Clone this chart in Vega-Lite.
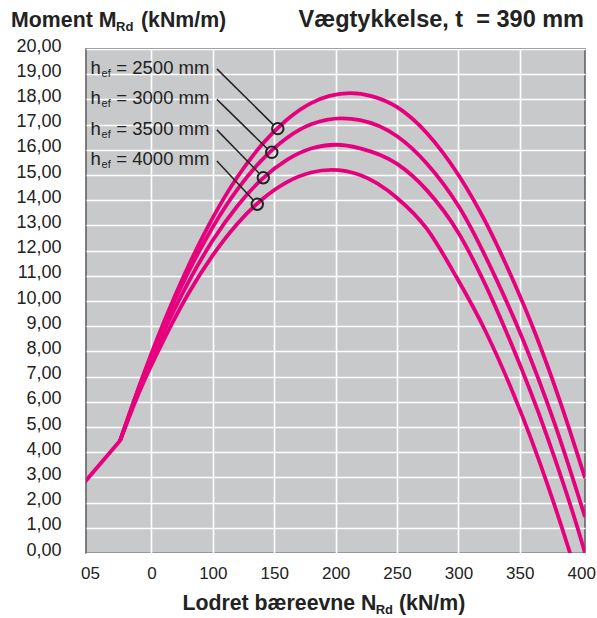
{
  "$schema": "https://vega.github.io/schema/vega-lite/v6.json",
  "autosize": {"type": "none"},
  "width": 499,
  "height": 504,
  "padding": {"left": 86, "top": 49, "right": 12, "bottom": 65},
  "background": "white",
  "config": {
    "font": "Liberation Sans",
    "view": {"fill": "#c8c9cb", "stroke": "#5a5a5a", "strokeWidth": 1.5},
    "axis": {"labelOverlap": false}
  },
  "datasets": {
    "base": [
      {"s": "all", "x": -5, "y": 2.78}, {"s": "all", "x": 24.4, "y": 4.45}
    ],
    "curves": [
      {"s": "2500", "x": 24.4, "y": 4.45}, {"s": "2500", "x": 40, "y": 6.62}, {"s": "2500", "x": 60, "y": 9.15}, {"s": "2500", "x": 80, "y": 11.38}, {"s": "2500", "x": 100, "y": 13.31}, {"s": "2500", "x": 120, "y": 14.92}, {"s": "2500", "x": 140, "y": 16.21}, {"s": "2500", "x": 160, "y": 17.18}, {"s": "2500", "x": 180, "y": 17.85}, {"s": "2500", "x": 195, "y": 18.14}, {"s": "2500", "x": 212, "y": 18.25}, {"s": "2500", "x": 230, "y": 18.12}, {"s": "2500", "x": 249.8, "y": 17.7}, {"s": "2500", "x": 274.2, "y": 16.67}, {"s": "2500", "x": 300.7, "y": 14.95}, {"s": "2500", "x": 323, "y": 13.05}, {"s": "2500", "x": 342, "y": 11.1}, {"s": "2500", "x": 362.7, "y": 8.7}, {"s": "2500", "x": 382.9, "y": 6.0}, {"s": "2500", "x": 403.1, "y": 2.98},
      {"s": "3000", "x": 24.4, "y": 4.45}, {"s": "3000", "x": 40, "y": 6.58}, {"s": "3000", "x": 60, "y": 9.03}, {"s": "3000", "x": 80, "y": 11.14}, {"s": "3000", "x": 100, "y": 12.94}, {"s": "3000", "x": 120, "y": 14.43}, {"s": "3000", "x": 140, "y": 15.6}, {"s": "3000", "x": 160, "y": 16.46}, {"s": "3000", "x": 180, "y": 17.01}, {"s": "3000", "x": 205, "y": 17.25}, {"s": "3000", "x": 219.9, "y": 17.18}, {"s": "3000", "x": 249.8, "y": 16.55}, {"s": "3000", "x": 274.2, "y": 15.46}, {"s": "3000", "x": 300.7, "y": 13.72}, {"s": "3000", "x": 331.2, "y": 10.83}, {"s": "3000", "x": 352.6, "y": 8.46}, {"s": "3000", "x": 377.9, "y": 5.2}, {"s": "3000", "x": 403.1, "y": 1.43},
      {"s": "3500", "x": 24.4, "y": 4.45}, {"s": "3500", "x": 40, "y": 6.5}, {"s": "3500", "x": 60, "y": 8.77}, {"s": "3500", "x": 80, "y": 10.74}, {"s": "3500", "x": 100, "y": 12.41}, {"s": "3500", "x": 120, "y": 13.77}, {"s": "3500", "x": 140, "y": 14.84}, {"s": "3500", "x": 160, "y": 15.59}, {"s": "3500", "x": 180, "y": 16.05}, {"s": "3500", "x": 200, "y": 16.2}, {"s": "3500", "x": 219.9, "y": 16.06}, {"s": "3500", "x": 249.8, "y": 15.45}, {"s": "3500", "x": 274.2, "y": 14.4}, {"s": "3500", "x": 300.7, "y": 12.65}, {"s": "3500", "x": 319, "y": 10.95}, {"s": "3500", "x": 342.6, "y": 8.36}, {"s": "3500", "x": 372.8, "y": 4.55}, {"s": "3500", "x": 403.1, "y": 0}, {"s": "3500", "x": 406, "y": -0.5},
      {"s": "4000", "x": 24.4, "y": 4.45}, {"s": "4000", "x": 40, "y": 6.38}, {"s": "4000", "x": 60, "y": 8.46}, {"s": "4000", "x": 80, "y": 10.29}, {"s": "4000", "x": 100, "y": 11.82}, {"s": "4000", "x": 120, "y": 13.07}, {"s": "4000", "x": 140, "y": 14.03}, {"s": "4000", "x": 160, "y": 14.71}, {"s": "4000", "x": 180, "y": 15.1}, {"s": "4000", "x": 197, "y": 15.2}, {"s": "4000", "x": 219.9, "y": 15.0}, {"s": "4000", "x": 249.8, "y": 14.1}, {"s": "4000", "x": 274.2, "y": 12.87}, {"s": "4000", "x": 298.6, "y": 10.93}, {"s": "4000", "x": 322.4, "y": 8.77}, {"s": "4000", "x": 352.6, "y": 5.37}, {"s": "4000", "x": 390.9, "y": 0}, {"s": "4000", "x": 395, "y": -0.64}
    ],
    "markers": [
      {"s": "2500", "x": 152.9, "y": 16.84},
      {"s": "3000", "x": 148, "y": 15.9},
      {"s": "3500", "x": 141.1, "y": 14.89},
      {"s": "4000", "x": 136.2, "y": 13.84}
    ],
    "leaders": [
      {"s": "2500", "x": 103.3, "y": 19.21, "x2": 149.0, "y2": 17.01},
      {"s": "3000", "x": 103.3, "y": 18.0, "x2": 144.2, "y2": 16.05},
      {"s": "3500", "x": 103.3, "y": 16.79, "x2": 137.5, "y2": 15.08},
      {"s": "4000", "x": 103.3, "y": 15.56, "x2": 132.7, "y2": 14.02}
    ],
    "labels": [
      {"role": "title", "t": "Moment M", "x": -64.3, "y": 20.86},
      {"role": "titleSub", "t": "Rd", "x": 21.2, "y": 20.73},
      {"role": "title", "t": "(kNm/m)", "x": 41.5, "y": 20.86},
      {"role": "titleRight", "t": "Vægtykkelse, t\u00a0 = 390 mm", "x": 402.3, "y": 20.88},
      {"role": "title", "t": "Lodret bæreevne N", "x": 75.2, "y": -2.26},
      {"role": "titleSub", "t": "Rd", "x": 232.6, "y": -2.42},
      {"role": "title", "t": "(kN/m)", "x": 251.6, "y": -2.26},
      {"role": "h", "t": "h", "x": 0.4, "y": 19.01},
      {"role": "ef", "t": "ef", "x": 9.4, "y": 18.88},
      {"role": "val", "t": "= 2500 mm", "x": 21.4, "y": 19.01},
      {"role": "h", "t": "h", "x": 0.4, "y": 17.82},
      {"role": "ef", "t": "ef", "x": 9.4, "y": 17.69},
      {"role": "val", "t": "= 3000 mm", "x": 21.4, "y": 17.82},
      {"role": "h", "t": "h", "x": 0.4, "y": 16.6},
      {"role": "ef", "t": "ef", "x": 9.4, "y": 16.47},
      {"role": "val", "t": "= 3500 mm", "x": 21.4, "y": 16.6},
      {"role": "h", "t": "h", "x": 0.4, "y": 15.4},
      {"role": "ef", "t": "ef", "x": 9.4, "y": 15.27},
      {"role": "val", "t": "= 4000 mm", "x": 21.4, "y": 15.4}
    ]
  },
  "encoding": {
    "x": {
      "field": "x", "type": "quantitative",
      "scale": {"domain": [-3.3, 403.1], "nice": false, "zero": false},
      "axis": {
        "title": null, "values": [0, 50, 100, 150, 200, 250, 300, 350, 400],
        "labelExpr": "datum.value == 0 ? '05' : datum.value == 50 ? '0' : datum.label",
        "ticks": false, "domain": false, "labelPadding": 12, "labelFontSize": 17,
        "labelColor": "#222", "labelFont": "Liberation Sans", "labelOverlap": false,
        "grid": true, "gridColor": "white", "gridWidth": 1.6,
        "gridOpacity": {"condition": {"test": "datum.value == 0 || datum.value == 400", "value": 0}, "value": 1}
      }
    },
    "y": {
      "field": "y", "type": "quantitative",
      "scale": {"domain": [0, 20], "nice": false, "zero": false},
      "axis": {
        "title": null, "values": [0, 1, 2, 3, 4, 5, 6, 7, 8, 9, 10, 11, 12, 13, 14, 15, 16, 17, 18, 19, 20],
        "labelExpr": "replace(format(datum.value, '.2f'), '.', ',')",
        "ticks": false, "domain": false, "labelPadding": 25, "labelFontSize": 18,
        "labelColor": "#222", "labelFont": "Liberation Sans", "labelOffset": -3,
        "labelOverlap": false, "labelBound": false, "labelFlush": false,
        "grid": true, "gridColor": "white", "gridWidth": 1.6
      }
    }
  },
  "layer": [
    {
      "data": {"name": "curves"},
      "mark": {"type": "line", "color": "#e6007e", "strokeWidth": 3.8, "interpolate": "monotone", "clip": true},
      "encoding": {"detail": {"field": "s", "type": "nominal"}}
    },
    {
      "data": {"name": "base"},
      "mark": {"type": "line", "color": "#e6007e", "strokeWidth": 3.8, "interpolate": "linear", "clip": true},
      "encoding": {}
    },
    {
      "data": {"name": "leaders"},
      "mark": {"type": "rule", "color": "#222", "strokeWidth": 1.5},
      "encoding": {"x2": {"field": "x2"}, "y2": {"field": "y2"}}
    },
    {
      "data": {"name": "markers"},
      "mark": {"type": "point", "shape": "circle", "filled": false, "stroke": "#222", "strokeWidth": 2, "size": 130, "opacity": 1},
      "encoding": {}
    },
    {
      "data": {"name": "labels"},
      "transform": [{"filter": "datum.role == 'title'"}],
      "mark": {"type": "text", "align": "left", "baseline": "alphabetic", "fontSize": 21.3, "fontWeight": "bold", "color": "#222"},
      "encoding": {"text": {"field": "t"}}
    },
    {
      "data": {"name": "labels"},
      "transform": [{"filter": "datum.role == 'titleSub'"}],
      "mark": {"type": "text", "align": "left", "baseline": "alphabetic", "fontSize": 13, "fontWeight": "bold", "color": "#222"},
      "encoding": {"text": {"field": "t"}}
    },
    {
      "data": {"name": "labels"},
      "transform": [{"filter": "datum.role == 'titleRight'"}],
      "mark": {"type": "text", "align": "right", "baseline": "alphabetic", "fontSize": 23.5, "fontWeight": "bold", "color": "#222"},
      "encoding": {"text": {"field": "t"}}
    },
    {
      "data": {"name": "labels"},
      "transform": [{"filter": "datum.role == 'h' || datum.role == 'val'"}],
      "mark": {"type": "text", "align": "left", "baseline": "alphabetic", "fontSize": 18.5, "color": "#222"},
      "encoding": {"text": {"field": "t"}}
    },
    {
      "data": {"name": "labels"},
      "transform": [{"filter": "datum.role == 'ef'"}],
      "mark": {"type": "text", "align": "left", "baseline": "alphabetic", "fontSize": 11, "color": "#222"},
      "encoding": {"text": {"field": "t"}}
    }
  ]
}
